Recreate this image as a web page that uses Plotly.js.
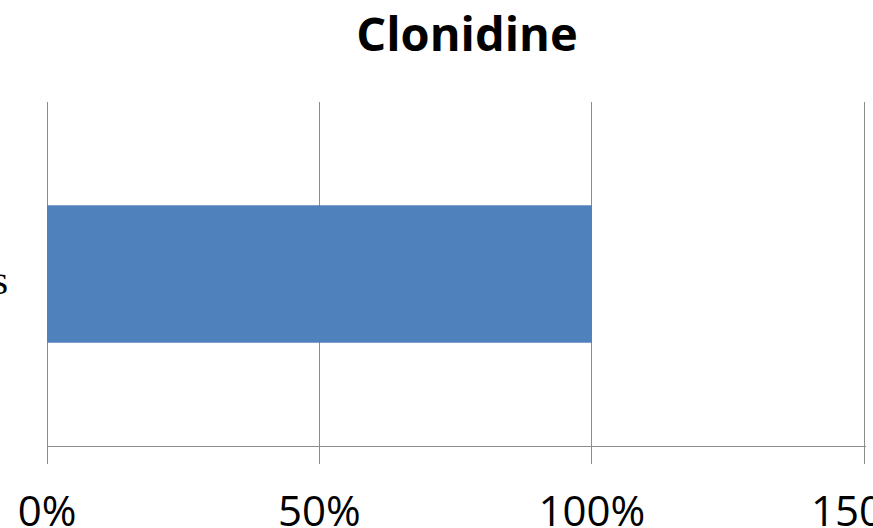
<!DOCTYPE html>
<html>
<head>
<meta charset="utf-8">
<script src="https://cdn.plot.ly/plotly-3.0.1.min.js"></script>
<style>html,body{margin:0;padding:0;background:#fff;overflow:hidden}#chart{width:873px;height:528px}</style>
</head>
<body>
<div id="chart"></div>
<script>
// Share of patients, one horizontal bar
const categories = ["Patients"];
const values = [1.0];
const tickValues = [0, 0.5, 1.0, 1.5];
const tickLabels = ["0%", "50%", "100%", "150%"];

const trace = {
  type: "bar",
  orientation: "h",
  y: categories,
  x: values,
  marker: { color: "#4F81BD" },
  hoverinfo: "x+y"
};

const layout = {
  width: 873,
  height: 528,
  margin: { l: 47, r: 7, t: 102, b: 82 },
  paper_bgcolor: "#ffffff",
  plot_bgcolor: "#ffffff",
  showlegend: false,
  bargap: 0.6,
  title: {
    text: "<b>Clonidine</b>",
    font: { family: "Open Sans, sans-serif", size: 47, color: "#000" },
    x: 467 / 873,
    xanchor: "center",
    y: 1 - 35 / 528,
    yanchor: "middle"
  },
  xaxis: {
    // a little headroom past 150% keeps its gridline from being clipped
    range: [0, 1.503],
    tickvals: tickValues,
    ticktext: tickLabels,
    showgrid: true,
    gridcolor: "#8c8c8c",
    gridwidth: 1,
    zeroline: true,
    zerolinecolor: "#8c8c8c",
    zerolinewidth: 1,
    showline: true,
    linecolor: "#8c8c8c",
    linewidth: 1,
    ticks: "outside",
    ticklen: 17,
    tickcolor: "#8c8c8c",
    ticklabelstandoff: 12,
    ticklabeloverflow: "allow",
    tickfont: { family: "Open Sans, sans-serif", size: 42, color: "#000" },
    automargin: false,
    fixedrange: true
  },
  yaxis: {
    showgrid: false,
    zeroline: false,
    showline: false,
    ticks: "",
    ticklabelstandoff: 38,
    ticklabelshift: 6,
    tickfont: { family: "Liberation Serif, serif", size: 40, color: "#000" },
    automargin: false,
    fixedrange: true
  }
};

Plotly.newPlot("chart", [trace], layout, { displayModeBar: false, staticPlot: true });
</script>
</body>
</html>
